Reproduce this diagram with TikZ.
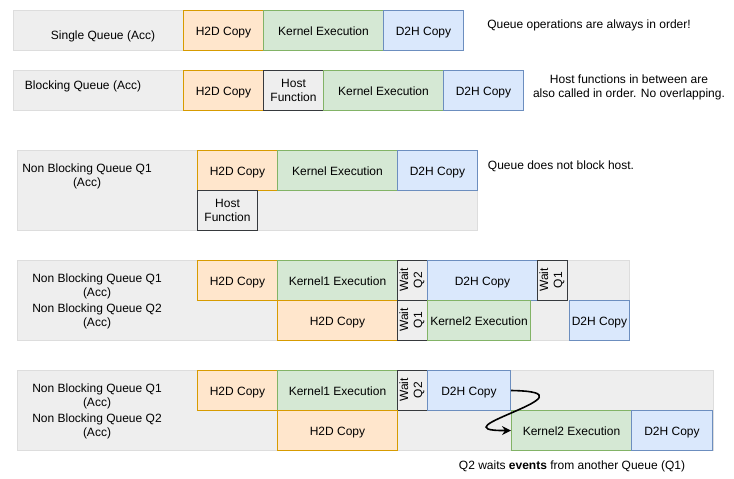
\documentclass[tikz,border=0pt]{standalone}
\usepackage{fontspec}
\setmainfont{Liberation Sans}
\usetikzlibrary{arrows.meta}
\definecolor{h2dfill}{HTML}{FFE6CC}
\definecolor{h2dline}{HTML}{D79B00}
\definecolor{kernfill}{HTML}{D5E8D4}
\definecolor{kernline}{HTML}{82B366}
\definecolor{d2hfill}{HTML}{DAE8FC}
\definecolor{d2hline}{HTML}{6C8EBF}
\definecolor{lanefill}{HTML}{EEEEEE}
\definecolor{laneline}{HTML}{DDDDDD}
\definecolor{hostline}{HTML}{36393D}
\begin{document}
\begin{tikzpicture}[x = 1pt, y = -1pt,
    every node/.style = {font=\fontsize{12}{14}\selectfont},
    lane/.style    = {draw=laneline, fill=lanefill, line width=1pt, anchor=north west, inner sep=0pt},
    box/.style     = {line width=1pt, anchor=north west, minimum height=40, inner sep=0pt, align=center},
    oneline/.style = {text height=10pt, text depth=0pt},
    h2d/.style     = {box, oneline, draw=h2dline, fill=h2dfill},
    kern/.style    = {box, oneline, draw=kernline, fill=kernfill},
    d2h/.style     = {box, oneline, draw=d2hline, fill=d2hfill},
    hostfn/.style  = {box, draw=hostline, fill=lanefill},
    waitbox/.style = {hostfn, anchor=center, rotate=90, minimum width=40, minimum height=30},
    qname/.style   = {align=center, inner sep=0pt},
    note/.style    = {align=center, inner sep=0pt}]
        \useasboundingbox (0,0) rectangle (734,479);

        \node[lane, minimum width=450, minimum height=40] (lane1) at (13,10) {};
        \node[qname]                    (name1)   at (103,36)  {Single Queue (Acc)};
        \node[h2d,  minimum width=80]   (h2d1)    at (183,10)  {H2D Copy};
        \node[kern, minimum width=120]  (kernel1) at (263,10)  {Kernel Execution};
        \node[d2h,  minimum width=80]   (d2h1)    at (383,10)  {D2H Copy};
        \node[note]                     (note1)   at (589,25)  {Queue operations are always in order!};

        \node[lane, minimum width=510, minimum height=40] (lane2) at (13,70) {};
        \node[qname]                    (name2)   at (83,86)   {Blocking Queue (Acc)};
        \node[h2d,    minimum width=80]  (h2d2)    at (183,70)  {H2D Copy};
        \node[hostfn, minimum width=60]  (host2)   at (263,70)  {Host\\Function};
        \node[kern,   minimum width=120] (kernel2) at (323,70)  {Kernel Execution};
        \node[d2h,    minimum width=80]  (d2h2)    at (443,70)  {D2H Copy};
        \node[note]                      (note2)   at (629,87)  {Host functions in between are\\also called in order. No overlapping.};

        \node[lane, minimum width=460, minimum height=80] (lane3) at (17,150) {};
        \node[qname]                     (name3)   at (87,176)  {Non Blocking Queue Q1\\(Acc)};
        \node[h2d,    minimum width=80]  (h2d3)    at (197,150) {H2D Copy};
        \node[kern,   minimum width=120] (kernel3) at (277,150) {Kernel Execution};
        \node[d2h,    minimum width=80]  (d2h3)    at (397,150) {D2H Copy};
        \node[hostfn, minimum width=60]  (host3)   at (197,190) {Host\\Function};
        \node[note]                      (note3)   at (561,166) {Queue does not block host.};

        \node[lane, minimum width=612, minimum height=80] (lane4) at (17,260) {};
        \node[qname]                     (name4a)   at (97,286)  {Non Blocking Queue Q1\\(Acc)};
        \node[qname]                     (name4b)   at (97,316)  {Non Blocking Queue Q2\\(Acc)};
        \node[h2d,  minimum width=80]    (h2d4a)    at (197,260) {H2D Copy};
        \node[kern, minimum width=120]   (kernel4a) at (277,260) {Kernel1 Execution};
        \node[waitbox]                   (wait4a)   at (412,280) {Wait\\Q2};
        \node[d2h,  minimum width=110]   (d2h4a)    at (427,260) {D2H Copy};
        \node[waitbox]                   (wait4c)   at (552,280) {Wait\\Q1};
        \node[h2d,  minimum width=120]   (h2d4b)    at (277,300) {H2D Copy};
        \node[waitbox]                   (wait4b)   at (412,320) {Wait\\Q1};
        \node[kern, minimum width=103]   (kernel4b) at (427,300) {Kernel2 Execution};
        \node[d2h,  minimum width=60]    (d2h4b)    at (569,300) {D2H Copy};

        \node[lane, minimum width=696, minimum height=80] (lane5) at (17,370) {};
        \node[qname]                     (name5a)   at (97,396)  {Non Blocking Queue Q1\\(Acc)};
        \node[qname]                     (name5b)   at (97,426)  {Non Blocking Queue Q2\\(Acc)};
        \node[h2d,  minimum width=80]    (h2d5a)    at (197,370) {H2D Copy};
        \node[kern, minimum width=120]   (kernel5a) at (277,370) {Kernel1 Execution};
        \node[waitbox]                   (wait5a)   at (412,390) {Wait\\Q2};
        \node[d2h,  minimum width=83]    (d2h5a)    at (427,370) {D2H Copy};
        \node[h2d,  minimum width=120]   (h2d5b)    at (277,410) {H2D Copy};
        \node[kern, minimum width=120]   (kernel5b) at (511,410) {Kernel2 Execution};
        \node[d2h,  minimum width=81]    (d2h5b)    at (631,410) {D2H Copy};
        \node[note]                      (note5)    at (572,466) {Q2 waits \textbf{events} from another Queue (Q1)};

        \draw[line width=1.6pt, -{Stealth[length=9pt, width=9pt, inset=3pt]}]
            (d2h5a.east) .. controls (605,392) and (430,431) .. (kernel5b.west);
\end{tikzpicture}
\end{document}
